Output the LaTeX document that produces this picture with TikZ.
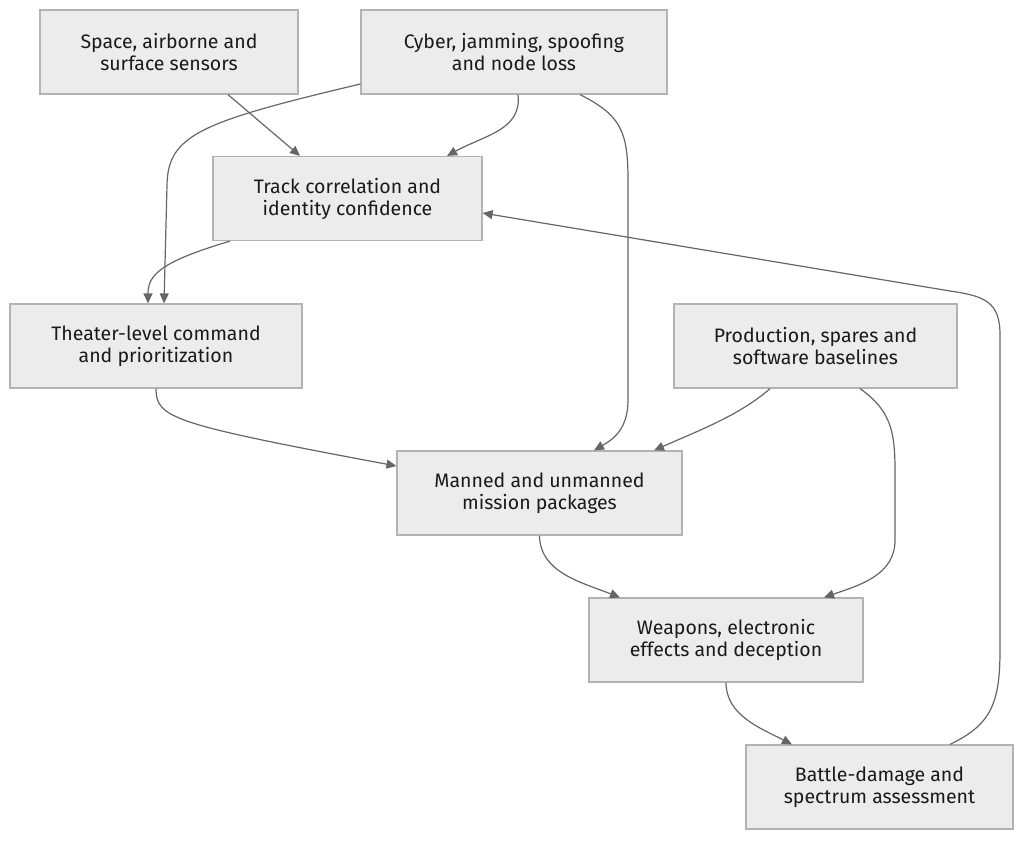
\documentclass[tikz,border=0pt]{standalone}
\usepackage{fontspec}
\setmainfont{Fira Sans}
\usetikzlibrary{arrows.meta,calc}
\definecolor{boxfill}{HTML}{ECECEC}
\definecolor{boxline}{HTML}{B3B3B3}
\definecolor{edgecol}{HTML}{666666}
\definecolor{txt}{HTML}{1A1A1A}
\begin{document}
\begin{tikzpicture}[x=1pt,y=-1pt,
  box/.style={draw=boxline,fill=boxfill,line width=1.2pt,rectangle,align=center,
    text=txt,font=\fontsize{19.5}{22}\selectfont,inner sep=0pt,minimum height=84pt},
  edge/.style={draw=edgecol,line width=1.2pt,-{Triangle[length=10pt,width=9pt]}}]
\useasboundingbox (0,0) rectangle (1024,840);
\node[box,minimum width=258pt] (A) at (169,52) {Space, airborne and\\surface sensors};
\node[box,minimum width=306pt] (B) at (514,52) {Cyber, jamming, spoofing\\and node loss};
\node[box,minimum width=269pt] (C) at (347.5,198.5) {Track correlation and\\identity confidence};
\node[box,minimum width=292pt] (D) at (156,346) {Theater-level command\\and prioritization};
\node[box,minimum width=283pt] (E) at (815.5,346) {Production, spares and\\software baselines};
\node[box,minimum width=285pt] (F) at (539.5,493) {Manned and unmanned\\mission packages};
\node[box,minimum width=274pt] (G) at (726,640) {Weapons, electronic\\effects and deception};
\node[box,minimum width=267pt] (H) at (879.5,787) {Battle-damage and\\spectrum assessment};
% edges
\draw[edge] ([xshift=59pt]A.south) -- ([xshift=-47.5pt]C.north);
\draw[edge] ([yshift=-32pt]B.west) .. controls (200,122) and (168,135) .. (167,185) -- ([xshift=8pt]D.north);
\draw[edge] ([xshift=4pt]B.south) .. controls (522,130) and (485,135) .. ([xshift=99.5pt]C.north);
\draw[edge] ([xshift=66pt]B.south) .. controls (620,115) and (628,130) .. (628,180) -- (628,400) .. controls (628,430) and (612,440) .. ([xshift=54.5pt]F.north);
\draw[edge] ([xshift=-117.5pt]C.south) .. controls (160,262) and (148,275) .. ([xshift=-8pt]D.north);
\draw[edge] (D.south) .. controls (156,418) and (172,424) .. ([yshift=27pt]F.west);
\draw[edge] ([xshift=-45.5pt]E.south) .. controls (740,415) and (700,430) .. ([xshift=114.5pt]F.north);
\draw[edge] ([xshift=44.5pt]E.south) .. controls (890,410) and (895,430) .. (895,470) -- (895,540) .. controls (895,575) and (860,585) .. ([xshift=98pt]G.north);
\draw[edge] (F.south) .. controls (540,572) and (580,582) .. ([xshift=-106pt]G.north);
\draw[edge] (G.south) .. controls (726,715) and (760,728) .. ([xshift=-87.5pt]H.north);
\draw[edge] ([xshift=70.5pt]H.north) .. controls (990,725) and (1000,705) .. (1000,650) -- (1000,335) .. controls (1000,302) and (985,296) .. (950,291) -- ([yshift=-14.5pt]C.east);
\end{tikzpicture}
\end{document}
